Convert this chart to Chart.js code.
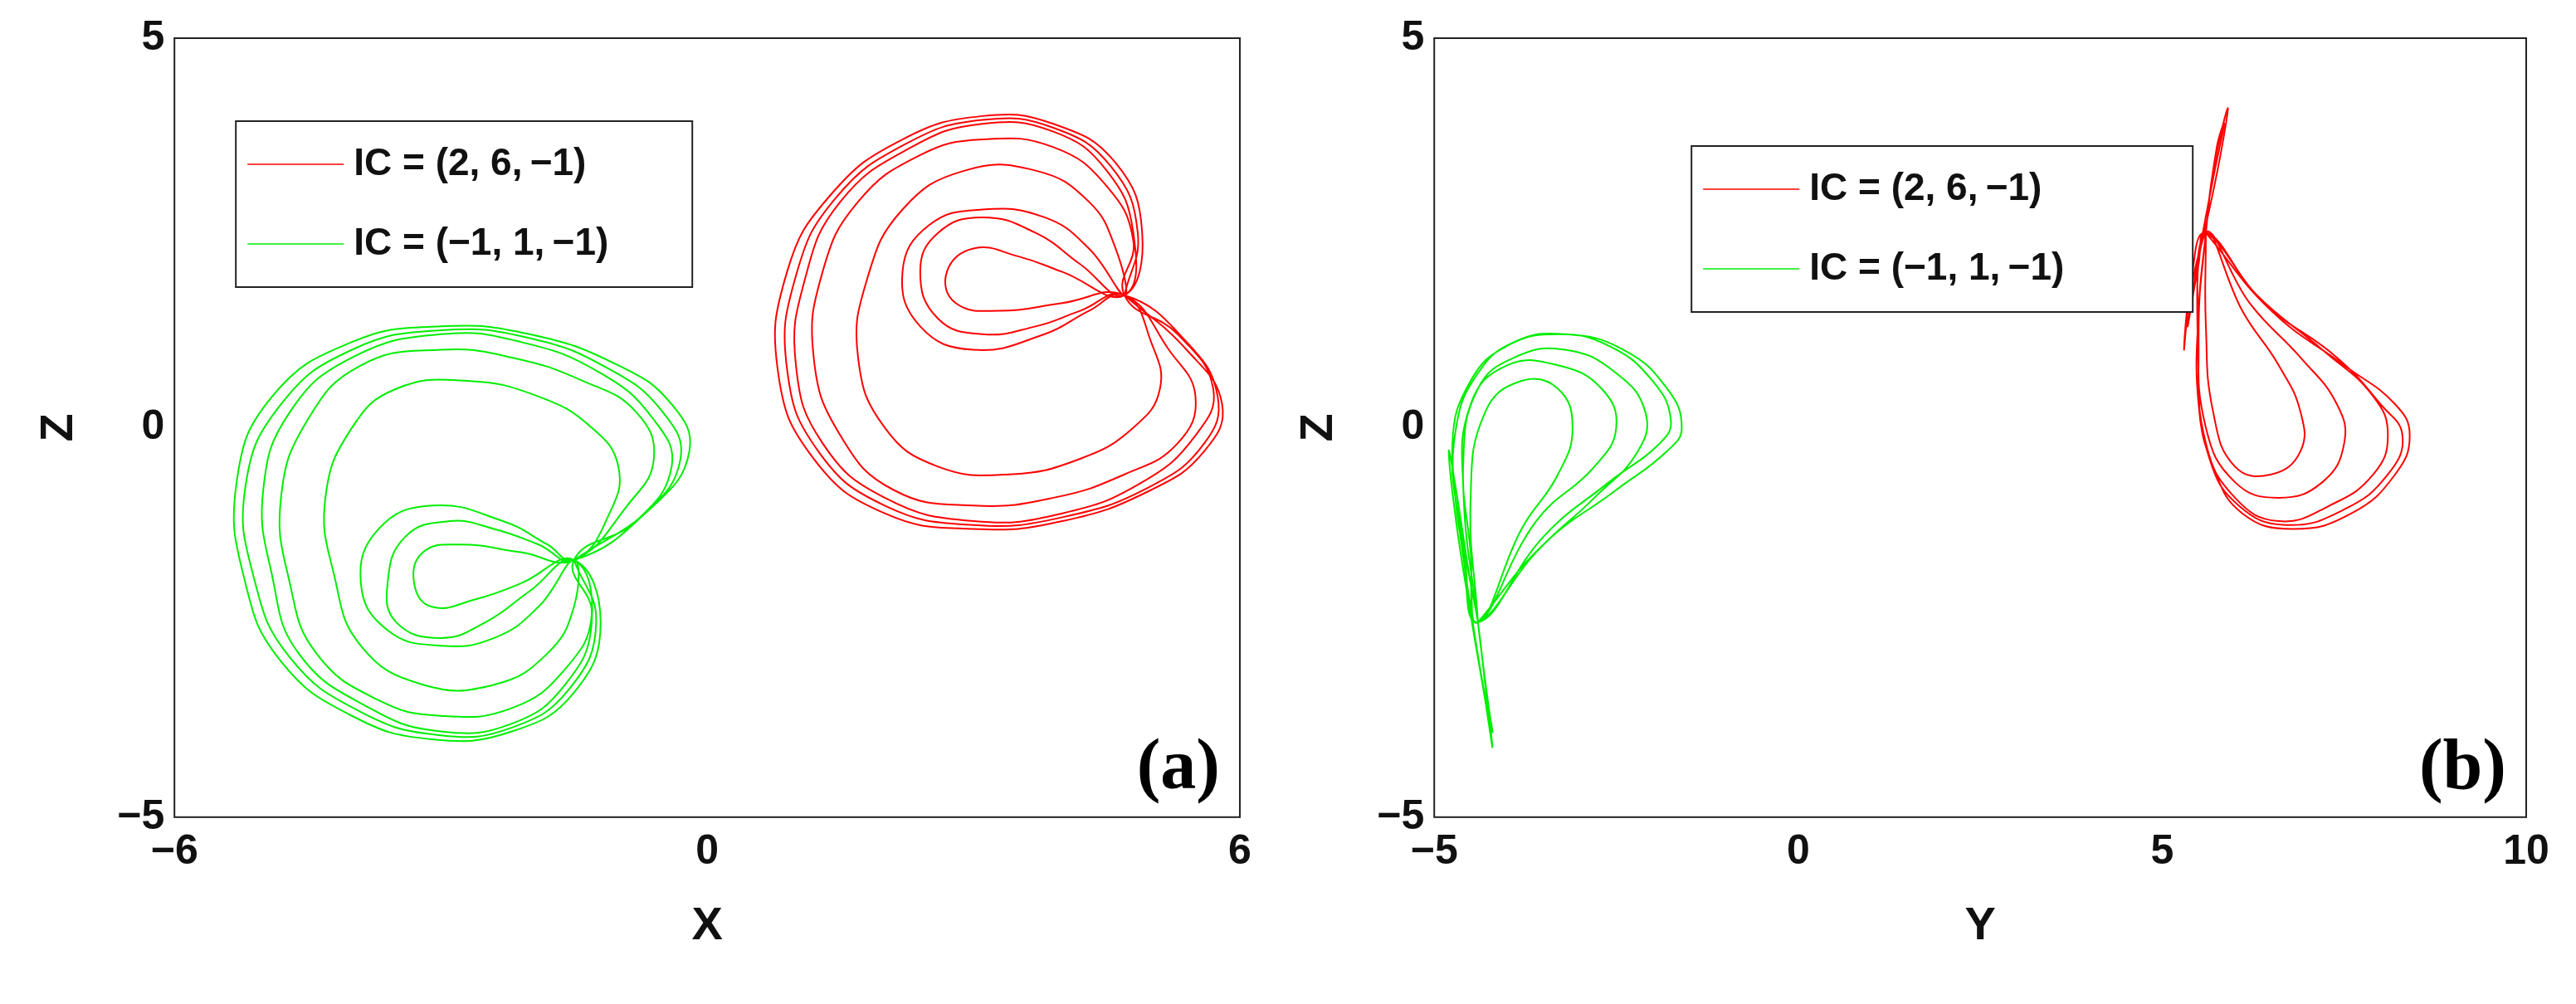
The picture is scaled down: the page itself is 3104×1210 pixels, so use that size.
<!DOCTYPE html>
<html>
<head>
<meta charset="utf-8">
<script src="https://cdn.jsdelivr.net/npm/chart.js@4.4.1/dist/chart.umd.min.js"></script>
<style>
  body { margin: 0; background: #fff; }
  .wrap { position: absolute; top: 0; height: 1210px; }
  #wa { left: 0; width: 1552px; }
  #wb { left: 1552px; width: 1552px; }
</style>
</head>
<body>
<div class="wrap" id="wa"><canvas id="ca"></canvas></div>
<div class="wrap" id="wb"><canvas id="cb"></canvas></div>
<script>
// trajectories, [x, z] and [y, z]
const redXZ = [
  [4.7,1.7],[5.4,1.0],[5.8,0.3],[5.6,-0.3],[5.0,-0.8],[4.0,-1.2],[3.0,-1.3],[2.0,-1.1],[1.2,-0.4],[0.8,0.7],[0.9,2.0],[1.4,3.0],[2.2,3.7],[3.1,4.0],[3.9,3.9],[4.6,3.4],[4.9,2.5],[4.7,1.7],
  [4.2,2.1],[3.7,2.5],[3.1,2.7],[2.6,2.5],[2.4,2.0],[2.6,1.4],[3.1,1.2],[3.7,1.3],[4.2,1.5],[4.7,1.7],
  [5.2,1.0],[5.5,0.4],[5.3,-0.2],[4.7,-0.6],[3.9,-0.9],[3.0,-1.0],[2.1,-0.8],[1.5,-0.1],[1.2,0.9],[1.3,2.0],[1.7,2.9],[2.4,3.5],[3.1,3.7],[3.9,3.6],[4.5,3.1],[4.8,2.4],[4.7,1.7],
  [5.3,1.2],[5.7,0.5],[5.5,-0.1],[4.9,-0.7],[4.0,-1.1],[3.0,-1.2],[2.0,-0.9],[1.3,-0.2],[1.0,0.8],[1.1,1.9],[1.5,2.9],[2.3,3.6],[3.1,3.9],[3.9,3.8],[4.5,3.3],[4.8,2.5],[4.7,1.7],
  [4.0,2.0],[3.5,2.2],[3.0,2.3],[2.7,2.0],[2.8,1.6],[3.3,1.5],[4.0,1.6],[4.7,1.7],
  [5.0,1.1],[5.1,0.5],[4.8,0.0],[4.2,-0.4],[3.4,-0.6],[2.6,-0.5],[2.0,0.0],[1.7,0.9],[1.8,1.9],[2.2,2.8],[2.9,3.3],[3.7,3.3],[4.3,2.9],[4.6,2.3],[4.7,1.7],
  [4.3,2.3],[3.8,2.7],[3.1,2.8],[2.5,2.6],[2.2,2.0],[2.4,1.3],[3.0,1.0],[3.8,1.2],[4.3,1.5],[4.7,1.7],
  [5.4,1.1],[5.75,0.4],[5.6,-0.2],[5.0,-0.75],[4.0,-1.15],[3.0,-1.25],[2.0,-1.0],[1.25,-0.3],[0.9,0.75],[1.0,1.95],[1.45,2.95],[2.25,3.65],[3.1,3.95],[3.9,3.85],[4.55,3.35],[4.85,2.5],[4.7,1.7]
];
const greenXZ = [
  [-1.5,-1.7],[-0.6,-1.0],[-0.2,-0.3],[-0.4,0.3],[-1.0,0.8],[-2.0,1.2],[-3.0,1.3],[-4.0,1.1],[-4.9,0.4],[-5.3,-0.7],[-5.2,-2.0],[-4.8,-3.0],[-4.0,-3.7],[-3.1,-4.0],[-2.2,-3.9],[-1.5,-3.4],[-1.2,-2.5],[-1.5,-1.7],
  [-2.0,-2.1],[-2.5,-2.5],[-3.0,-2.7],[-3.5,-2.5],[-3.6,-2.0],[-3.4,-1.4],[-2.9,-1.2],[-2.4,-1.3],[-1.9,-1.5],[-1.5,-1.7],
  [-0.9,-1.0],[-0.6,-0.4],[-0.8,0.2],[-1.4,0.6],[-2.2,0.9],[-3.0,1.0],[-3.9,0.8],[-4.5,0.1],[-4.8,-0.9],[-4.7,-2.0],[-4.4,-2.9],[-3.7,-3.5],[-3.0,-3.7],[-2.2,-3.6],[-1.6,-3.1],[-1.3,-2.4],[-1.5,-1.7],
  [-0.8,-1.2],[-0.4,-0.5],[-0.6,0.1],[-1.2,0.7],[-2.1,1.1],[-3.0,1.2],[-4.0,0.9],[-4.7,0.2],[-5.0,-0.8],[-4.9,-1.9],[-4.6,-2.9],[-3.8,-3.6],[-3.0,-3.9],[-2.2,-3.8],[-1.6,-3.3],[-1.3,-2.5],[-1.5,-1.7],
  [-2.1,-2.0],[-2.6,-2.2],[-3.1,-2.3],[-3.3,-2.0],[-3.2,-1.6],[-2.8,-1.5],[-2.1,-1.6],[-1.5,-1.7],
  [-1.1,-1.1],[-1.0,-0.5],[-1.3,0.0],[-1.9,0.4],[-2.7,0.6],[-3.5,0.5],[-4.0,0.0],[-4.3,-0.9],[-4.2,-1.9],[-3.9,-2.8],[-3.2,-3.3],[-2.4,-3.3],[-1.8,-2.9],[-1.5,-2.3],[-1.5,-1.7],
  [-1.9,-2.3],[-2.4,-2.7],[-3.0,-2.8],[-3.6,-2.6],[-3.9,-2.0],[-3.7,-1.3],[-3.1,-1.0],[-2.3,-1.2],[-1.8,-1.5],[-1.5,-1.7],
  [-0.7,-1.1],[-0.3,-0.4],[-0.5,0.2],[-1.1,0.75],[-2.0,1.15],[-3.0,1.25],[-4.0,1.0],[-4.8,0.3],[-5.2,-0.75],[-5.1,-1.95],[-4.7,-2.95],[-3.9,-3.65],[-3.0,-3.95],[-2.2,-3.85],[-1.55,-3.35],[-1.25,-2.5],[-1.5,-1.7]
];
const redYZ = [
  [5.6,2.5],[6.5,1.5],[7.5,0.8],[8.2,0.3],[8.4,-0.1],[8.2,-0.6],[7.6,-1.1],[6.8,-1.3],[6.1,-1.1],[5.7,-0.5],[5.5,0.3],[5.5,1.5],[5.6,2.5],
  [5.7,3.3],[5.9,4.1],[5.8,3.5],[5.6,2.6],[5.4,1.8],[5.3,1.0],[5.4,1.9],[5.6,2.5],
  [6.3,1.7],[7.2,1.0],[7.9,0.4],[8.1,-0.1],[7.9,-0.6],[7.3,-1.0],[6.6,-1.2],[6.0,-0.9],[5.6,-0.2],[5.5,1.0],[5.6,2.5],
  [6.2,1.6],[6.9,0.9],[7.4,0.3],[7.5,-0.2],[7.2,-0.7],[6.6,-0.9],[6.0,-0.7],[5.6,0.0],[5.5,1.2],[5.6,2.5],
  [5.75,3.6],[5.85,3.9],[5.7,3.2],[5.5,2.2],[5.35,1.3],[5.5,2.1],[5.6,2.5],
  [6.4,1.6],[7.4,0.9],[8.0,0.3],[8.3,-0.1],[8.1,-0.6],[7.5,-1.05],[6.7,-1.25],[6.05,-1.0],[5.65,-0.4],[5.5,0.6],[5.6,2.5],
  [6.1,1.5],[6.6,0.8],[6.9,0.2],[6.9,-0.3],[6.5,-0.6],[6.0,-0.5],[5.7,0.2],[5.6,1.3],[5.6,2.5]
];
const greenYZ = [
  [-4.4,-2.5],[-3.5,-1.5],[-2.5,-0.8],[-1.8,-0.3],[-1.6,0.0],[-1.8,0.5],[-2.4,1.0],[-3.2,1.2],[-3.9,1.1],[-4.4,0.7],[-4.7,0.0],[-4.7,-1.0],[-4.5,-2.0],[-4.4,-2.5],
  [-4.3,-3.3],[-4.2,-4.1],[-4.3,-3.5],[-4.5,-2.4],[-4.7,-1.2],[-4.8,-0.3],[-4.7,-0.8],[-4.5,-2.0],[-4.4,-2.5],
  [-3.6,-1.6],[-2.8,-0.9],[-2.2,-0.3],[-2.1,0.2],[-2.5,0.7],[-3.2,1.0],[-3.9,0.9],[-4.4,0.5],[-4.6,-0.4],[-4.5,-1.6],[-4.4,-2.5],
  [-3.6,-1.2],[-2.8,-0.5],[-2.5,0.0],[-2.7,0.5],[-3.3,0.8],[-4.0,0.8],[-4.5,0.3],[-4.6,-0.8],[-4.4,-2.5],
  [-4.25,-3.6],[-4.2,-3.9],[-4.35,-3.2],[-4.55,-2.0],[-4.75,-0.6],[-4.6,-1.6],[-4.4,-2.5],
  [-3.5,-1.4],[-2.6,-0.7],[-1.9,-0.2],[-1.75,0.1],[-2.0,0.6],[-2.6,1.05],[-3.3,1.2],[-4.0,1.05],[-4.5,0.6],[-4.75,-0.2],[-4.6,-1.5],[-4.4,-2.5],
  [-3.8,-1.3],[-3.3,-0.6],[-3.1,0.0],[-3.3,0.5],[-3.8,0.6],[-4.3,0.2],[-4.5,-0.9],[-4.4,-2.5]
];
const legendLabels = ["IC = (2, 6,\u2009\u22121)", "IC = (\u22121, 1,\u2009\u22121)"];
const xTicksA = [-6, 0, 6];
const xTicksB = [-5, 0, 5, 10];
const zTicks = [-5, 0, 5];

const RED = "#ff0000", GREEN = "#00ee00";
const tickFont = { family: "Arial, 'Liberation Sans'", size: 50, weight: "bold" };
const titleFont = { family: "Arial, 'Liberation Sans'", size: 56, weight: "bold" };

const boxPlugin = {
  id: "box",
  afterDraw(chart, args, o) {
    const a = chart.chartArea, c = chart.ctx;
    c.save();
    c.strokeStyle = "#222"; c.lineWidth = 2;
    c.strokeRect(a.left, a.top, a.right - a.left, a.bottom - a.top);
    // legend box
    const lx = a.left + o.lx, ly = a.top + o.ly, lw = o.lw, lh = 200;
    c.fillStyle = "#fff"; c.fillRect(lx, ly, lw, lh);
    c.lineWidth = 2; c.strokeStyle = "#222"; c.strokeRect(lx, ly, lw, lh);
    c.font = "bold 46px Arial, 'Liberation Sans'";
    c.textBaseline = "middle";
    chart.data.datasets.forEach((d, i) => {
      const y = ly + 52 + i * 96;
      c.strokeStyle = d.borderColor; c.lineWidth = 1.5;
      c.beginPath(); c.moveTo(lx + 14, y); c.lineTo(lx + 130, y); c.stroke();
      c.fillStyle = "#111"; c.fillText(d.label, lx + 142, y);
    });
    // panel tag
    c.font = "bold 86px 'Liberation Serif', 'DejaVu Serif', serif";
    c.textAlign = "right"; c.textBaseline = "bottom";
    c.fillStyle = "#000";
    c.fillText(o.tag, a.right - 24, a.bottom - 14);
    c.restore();
  }
};

function makeChart(id, red, green, xTicks, xmin, xmax, xtitle, opts) {
  return new Chart(document.getElementById(id), {
    type: "scatter",
    data: {
      datasets: [
        { label: legendLabels[0], data: red.map(p => ({ x: p[0], y: p[1] })), borderColor: RED, showLine: true, pointRadius: 0, borderWidth: 2, tension: 0.45 },
        { label: legendLabels[1], data: green.map(p => ({ x: p[0], y: p[1] })), borderColor: GREEN, showLine: true, pointRadius: 0, borderWidth: 2, tension: 0.45 }
      ]
    },
    options: {
      responsive: true, maintainAspectRatio: false, animation: false,
      layout: { padding: opts.pad },
      plugins: { legend: { display: false }, tooltip: { enabled: false }, box: opts },
      scales: {
        x: {
          type: "linear", min: xmin, max: xmax,
          afterBuildTicks: s => { s.ticks = xTicks.map(v => ({ value: v })); },
          ticks: { font: tickFont, color: "#111", padding: 12, callback: v => String(v).replace("-", "\u2212") },
          grid: { display: false, drawTicks: false },
          border: { display: false },
          title: { display: true, text: xtitle, font: titleFont, color: "#111", padding: { top: 14 } }
        },
        y: {
          type: "linear", min: -5, max: 5,
          afterBuildTicks: s => { s.ticks = zTicks.map(v => ({ value: v })); },
          ticks: { font: tickFont, color: "#111", padding: 12, callback: v => String(v).replace("-", "\u2212") },
          grid: { display: false, drawTicks: false },
          border: { display: false },
          title: { display: true, text: "Z", font: titleFont, color: "#111", padding: { bottom: 24 } }
        }
      }
    },
    plugins: [boxPlugin]
  });
}

makeChart("ca", redXZ, greenXZ, xTicksA, -6, 6, "X",
  { pad: { left: 34, right: 58, top: 46, bottom: 56 }, lx: 74, ly: 100, lw: 550, tag: "(a)" });
makeChart("cb", redYZ, greenYZ, xTicksB, -5, 10, "Y",
  { pad: { left: 0, right: 60, top: 46, bottom: 56 }, lx: 310, ly: 130, lw: 604, tag: "(b)" });
</script>
</body>
</html>
